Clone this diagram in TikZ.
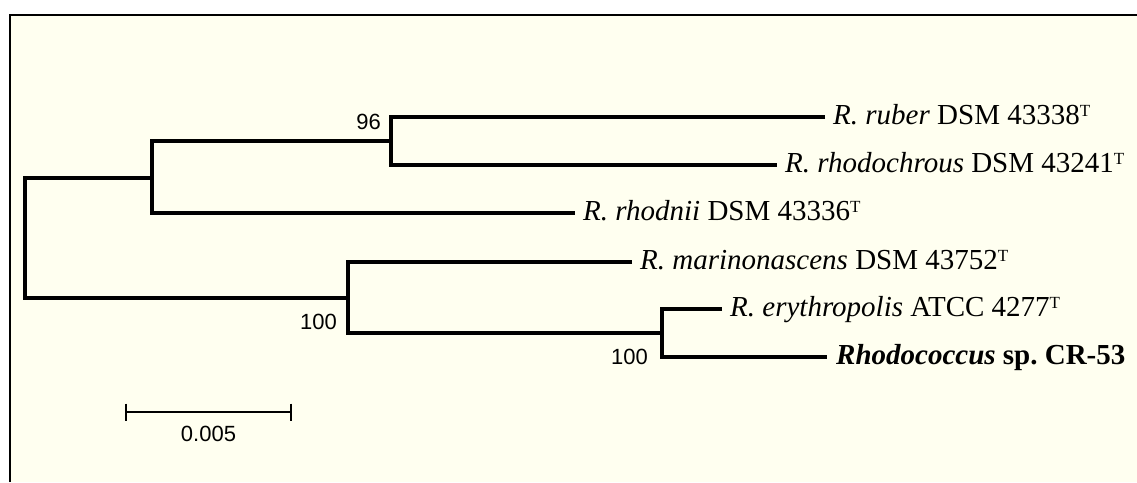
\documentclass[tikz,border=0pt]{standalone}
\usepackage{fontspec}
\setmainfont{Liberation Serif}
\newfontfamily\numfont{Liberation Sans}
\usetikzlibrary{calc}
\definecolor{panel}{HTML}{FFFFF0}
% small type-strain mark, top-aligned with the digits
\newcommand{\typemark}{\raisebox{7.5pt}{\fontsize{17}{17}\selectfont T}}
\begin{document}
\begin{tikzpicture}[x=1pt,y=-1pt,
  branch/.style={line width=4pt, line join=miter, line cap=butt},
  scalebar/.style={line width=2pt},
  taxon/.style={anchor=base west, inner sep=0pt, font=\fontsize{29}{31}\selectfont},
  boot/.style={anchor=base east, inner sep=0pt, font=\numfont\fontsize{22}{24}\selectfont},
]
\useasboundingbox (0,0) rectangle (1137,482);
\fill[white] (0,0) rectangle (1137,482);
% panel, cut at the right and bottom edges
\fill[panel] (9.5,14.5) rectangle (1137,482);
\draw[line width=2pt] (9.5,482) -- (9.5,14.5) -- (1137,14.5);

% internal nodes of the tree
\coordinate (root) at (25,237.5);
\coordinate (nA)   at (152,177.5);
\coordinate (n96)  at (391,141);
\coordinate (nB)   at (348,297.5);
\coordinate (nC)   at (662,333);

% branch tips
\coordinate (tRuber)   at (825,117);
\coordinate (tRhodo)   at (777,165);
\coordinate (tRhodnii) at (575,213);
\coordinate (tMarin)   at (632,262);
\coordinate (tEryth)   at (722,309);
\coordinate (tCR)      at (827,357);

% taxon names
\node[taxon] (lRuber)   at ($(tRuber)+(8,7)$)   {\textit{R. ruber} DSM 43338\typemark};
\node[taxon] (lRhodo)   at ($(tRhodo)+(8,7)$)   {\textit{R. rhodochrous} DSM 43241\typemark};
\node[taxon] (lRhodnii) at ($(tRhodnii)+(8,7)$) {\textit{R. rhodnii} DSM 43336\typemark};
\node[taxon] (lMarin)   at ($(tMarin)+(8,7)$)   {\textit{R. marinonascens} DSM 43752\typemark};
\node[taxon] (lEryth)   at ($(tEryth)+(8,7)$)   {\textit{R. erythropolis} ATCC 4277\typemark};
\node[taxon] (lCR)      at ($(tCR)+(9,7)$)      {\textbf{\textit{Rhodococcus} sp.\ CR-53}};

% branches
\draw[branch] (tRuber) -| (n96) |- (tRhodo);
\draw[branch] (n96) -| (nA) |- (tRhodnii);
\draw[branch] (nA) -| (root) |- (nB);
\draw[branch] (tMarin) -| (nB) |- (nC);
\draw[branch] (tEryth) -| (nC) |- (tCR);

% bootstrap values
\node[boot] (b96)  at ($(n96)+(-10,-12)$) {96};
\node[boot] (bB)   at ($(nB)+(-11,31.5)$) {100};
\node[boot] (bC)   at ($(nC)+(-14,31)$)   {100};

% scale bar
\coordinate (sL) at (126,412);
\coordinate (sR) at (291,412);
\draw[scalebar] (sL) -- (sR);
\draw[scalebar] ($(sL)+(0,-8.5)$) -- ($(sL)+(0,8.5)$);
\draw[scalebar] ($(sR)+(0,-8.5)$) -- ($(sR)+(0,8.5)$);
\node[anchor=base, inner sep=0pt, font=\numfont\fontsize{22}{24}\selectfont] (sLabel)
  at ($(sL)!0.5!(sR)+(0,29)$) {0.005};
\end{tikzpicture}
\end{document}
